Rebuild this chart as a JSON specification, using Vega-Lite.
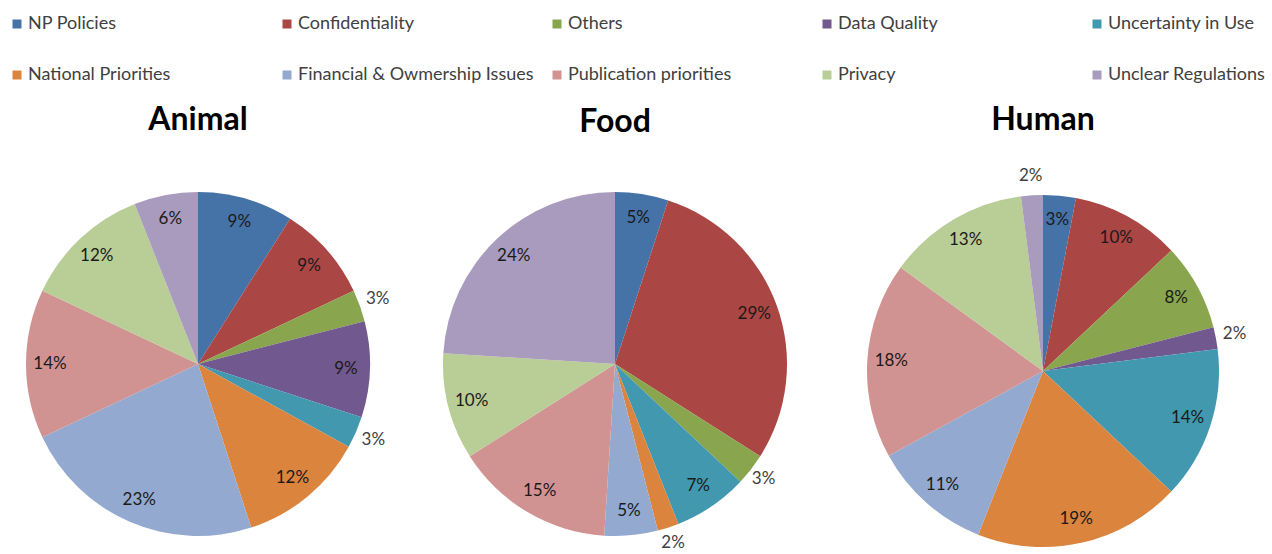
{
  "$schema": "https://vega.github.io/schema/vega-lite/v6.json",
  "background": "white",
  "padding": {"left": 7, "top": 15, "right": 5, "bottom": 0},
  "datasets": {
    "animal": [
      {"c": "NP Policies", "v": 0.09},
      {"c": "Confidentiality", "v": 0.09},
      {"c": "Others", "v": 0.03},
      {"c": "Data Quality", "v": 0.09},
      {"c": "Uncertainty in Use", "v": 0.03},
      {"c": "National Priorities", "v": 0.12},
      {"c": "Financial & Owmership Issues", "v": 0.23},
      {"c": "Publication priorities", "v": 0.14},
      {"c": "Privacy", "v": 0.12},
      {"c": "Unclear Regulations", "v": 0.06}
    ],
    "food": [
      {"c": "NP Policies", "v": 0.05},
      {"c": "Confidentiality", "v": 0.29},
      {"c": "Others", "v": 0.03},
      {"c": "Data Quality", "v": 0},
      {"c": "Uncertainty in Use", "v": 0.07},
      {"c": "National Priorities", "v": 0.02},
      {"c": "Financial & Owmership Issues", "v": 0.05},
      {"c": "Publication priorities", "v": 0.15},
      {"c": "Privacy", "v": 0.10},
      {"c": "Unclear Regulations", "v": 0.24}
    ],
    "human": [
      {"c": "NP Policies", "v": 0.03},
      {"c": "Confidentiality", "v": 0.10},
      {"c": "Others", "v": 0.08},
      {"c": "Data Quality", "v": 0.02},
      {"c": "Uncertainty in Use", "v": 0.14},
      {"c": "National Priorities", "v": 0.19},
      {"c": "Financial & Owmership Issues", "v": 0.11},
      {"c": "Publication priorities", "v": 0.18},
      {"c": "Privacy", "v": 0.13},
      {"c": "Unclear Regulations", "v": 0.02}
    ]
  },
  "config": {
    "view": {"stroke": null},
    "font": "Lato",
    "concat": {"spacing": 35},
    "title": {"font": "Lato", "fontSize": 32, "fontWeight": "bold", "color": "#000000", "anchor": "middle", "offset": 30},
    "legend": {
      "orient": "top",
      "direction": "horizontal",
      "columns": 5,
      "gridAlign": "all",
      "columnPadding": 14,
      "rowPadding": 33,
      "symbolType": "square",
      "symbolSize": 81,
      "symbolStrokeWidth": 0,
      "labelFont": "Lato",
      "labelFontSize": 18,
      "labelColor": "#404040",
      "labelLimit": 400,
      "labelOffset": 2,
      "offset": 20
    }
  },
  "resolve": {"scale": {"color": "shared", "theta": "independent"}},
  "hconcat": [
    {
      "width": 380, "height": 380,
      "title": "Animal",
      "data": {"name": "animal"},
      "transform": [{"calculate": "indexof(['NP Policies','Confidentiality','Others','Data Quality','Uncertainty in Use','National Priorities','Financial & Owmership Issues','Publication priorities','Privacy','Unclear Regulations'], datum.c)", "as": "k"}],
      "encoding": {
        "theta": {"field": "v", "type": "quantitative", "stack": true},
        "order": {"field": "k", "type": "quantitative"}
      },
      "layer": [
        {
          "mark": {"type": "arc", "outerRadius": 172},
          "encoding": {
            "color": {"field": "c", "type": "nominal", "title": null,
              "scale": {"domain": ["NP Policies","Confidentiality","Others","Data Quality","Uncertainty in Use","National Priorities","Financial & Owmership Issues","Publication priorities","Privacy","Unclear Regulations"],
                        "range": ["#4572A7","#AA4643","#89A54E","#71588F","#4198AF","#DB843D","#93A9CF","#D19392","#B9CD96","#A99BBD"]}}
          }
        },
        {
          "mark": {"type": "text", "radius": 148, "fontSize": 17, "font": "Lato", "color": "#1a1a1a"},
          "encoding": {"text": {"condition": {"test": "datum.v > 0.03", "field": "v", "format": ".0%"}, "value": ""}}
        },
        {
          "mark": {"type": "text", "radius": 191, "fontSize": 17, "font": "Lato", "color": "#404040"},
          "encoding": {"text": {"condition": {"test": "datum.v > 0 && datum.v <= 0.03", "field": "v", "format": ".0%"}, "value": ""}}
        }
      ]
    },
    {
      "width": 380, "height": 380,
      "title": "Food",
      "data": {"name": "food"},
      "transform": [{"calculate": "indexof(['NP Policies','Confidentiality','Others','Data Quality','Uncertainty in Use','National Priorities','Financial & Owmership Issues','Publication priorities','Privacy','Unclear Regulations'], datum.c)", "as": "k"}],
      "encoding": {
        "theta": {"field": "v", "type": "quantitative", "stack": true},
        "order": {"field": "k", "type": "quantitative"}
      },
      "layer": [
        {
          "mark": {"type": "arc", "outerRadius": 172},
          "encoding": {"color": {"field": "c", "type": "nominal", "title": null}}
        },
        {
          "mark": {"type": "text", "radius": 148, "fontSize": 17, "font": "Lato", "color": "#1a1a1a"},
          "encoding": {"text": {"condition": {"test": "datum.v > 0.03", "field": "v", "format": ".0%"}, "value": ""}}
        },
        {
          "mark": {"type": "text", "radius": 188, "fontSize": 17, "font": "Lato", "color": "#404040"},
          "encoding": {"text": {"condition": {"test": "datum.v > 0 && datum.v <= 0.03", "field": "v", "format": ".0%"}, "value": ""}}
        }
      ]
    },
    {
      "width": 406, "height": 394,
      "title": "Human",
      "data": {"name": "human"},
      "transform": [{"calculate": "indexof(['NP Policies','Confidentiality','Others','Data Quality','Uncertainty in Use','National Priorities','Financial & Owmership Issues','Publication priorities','Privacy','Unclear Regulations'], datum.c)", "as": "k"}],
      "encoding": {
        "theta": {"field": "v", "type": "quantitative", "stack": true},
        "order": {"field": "k", "type": "quantitative"}
      },
      "layer": [
        {
          "mark": {"type": "arc", "outerRadius": 176},
          "encoding": {"color": {"field": "c", "type": "nominal", "title": null}}
        },
        {
          "mark": {"type": "text", "radius": 152, "fontSize": 17, "font": "Lato", "color": "#1a1a1a"},
          "encoding": {"text": {"condition": {"test": "datum.v > 0.02", "field": "v", "format": ".0%"}, "value": ""}}
        },
        {
          "mark": {"type": "text", "radius": 195, "fontSize": 17, "font": "Lato", "color": "#404040"},
          "encoding": {"text": {"condition": {"test": "datum.v > 0 && datum.v <= 0.02", "field": "v", "format": ".0%"}, "value": ""}}
        }
      ]
    }
  ]
}
